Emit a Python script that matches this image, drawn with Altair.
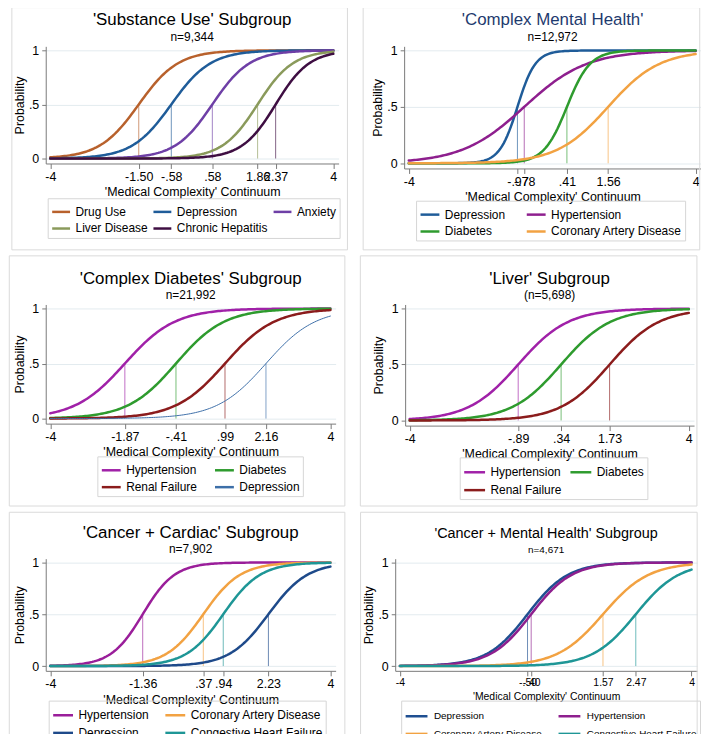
import numpy as np
import pandas as pd
import altair as alt

FONT = "Liberation Sans"

# ---------------- data ----------------
p1_title = "'Substance Use' Subgroup"
p1_n = "n=9,344"
p1_names = ["Drug Use", "Depression", "Anxiety", "Liver Disease", "Chronic Hepatitis"]
p1_b = [-1.50, -0.58, 0.58, 1.86, 2.37]
p1_a = [1.8, 1.8, 1.9, 2.0, 2.1]
p1_labels = ["-1.50", "-.58", ".58", "1.86", "2.37"]
p1_colors = ["#B8612C", "#1F5C99", "#6E3FA6", "#8A9A5B", "#3E0E42"]
p1_widths = [2.5, 2.5, 2.5, 2.5, 2.5]

p2_title = "'Complex Mental Health'"
p2_n = "n=12,972"
p2_names = ["Depression", "Hypertension", "Diabetes", "Coronary Artery Disease"]
p2_b = [-0.97, -0.78, 0.41, 1.56]
p2_a = [4.0, 1.15, 3.1, 1.4]
p2_labels = ["-.97", "-.78", ".41", "1.56"]
p2_colors = ["#1F5C99", "#8E1F8E", "#2E9B2E", "#F2A242"]
p2_widths = [2.5, 2.5, 2.5, 2.5]

p3_title = "'Complex Diabetes' Subgroup"
p3_n = "n=21,992"
p3_names = ["Hypertension", "Diabetes", "Renal Failure", "Depression"]
p3_b = [-1.87, -0.41, 0.99, 2.16]
p3_a = [1.4, 1.45, 1.42, 1.42]
p3_labels = ["-1.87", "-.41", ".99", "2.16"]
p3_colors = ["#A021A8", "#2E9B2E", "#8B1C1C", "#3D6FA8"]
p3_widths = [2.5, 2.5, 2.5, 1.0]

p4_title = "'Liver' Subgroup"
p4_n = "(n=5,698)"
p4_names = ["Hypertension", "Diabetes", "Renal Failure"]
p4_b = [-0.89, 0.34, 1.73]
p4_a = [1.4, 1.42, 1.42]
p4_labels = ["-.89", ".34", "1.73"]
p4_colors = ["#A021A8", "#2E9B2E", "#8B1C1C"]
p4_widths = [2.5, 2.5, 2.5]

p5_title = "'Cancer + Cardiac' Subgroup"
p5_n = "n=7,902"
p5_names = ["Hypertension", "Coronary Artery Disease", "Depression", "Congestive Heart Failure"]
p5_b = [-1.36, 0.37, 2.23, 0.94]
p5_a = [2.2, 1.9, 1.8, 1.9]
p5_labels = ["-1.36", ".37", "2.23", ".94"]
p5_colors = ["#9A1E9A", "#F2A242", "#1E4A8A", "#1E9696"]
p5_widths = [2.5, 2.5, 2.5, 2.5]

p6_title = "'Cancer + Mental Health' Subgroup"
p6_n = "n=4,671"
p6_names = ["Depression", "Hypertension", "Coronary Artery Disease", "Congestive Heart Failure"]
p6_b = [-0.50, -0.40, 1.57, 2.47]
p6_a = [1.8, 1.8, 1.6, 1.7]
p6_labels = ["-.50", "-.40", "1.57", "2.47"]
p6_colors = ["#1F4F91", "#8E1F8E", "#F2A242", "#1E9696"]
p6_widths = [2.5, 2.5, 2.5, 2.5]

x_ends = [-4, 4]
x_end_labels = ["-4", "4"]
y_ticks = [0, 0.5, 1]
y_tick_labels = ["0", ".5", "1"]
x_title = "'Medical Complexity' Continuum"
y_title = "Probability"

xs = np.linspace(-4, 4, 161)


def label_expr(values, labels):
    parts = []
    for v, l in zip(values, labels):
        parts.append(f"datum.value == {v} ? '{l}' : ")
    return "".join(parts) + "datum.label"


def panel(title, sub, names, b, a, labels, colors, widths, ncols, lay,
          title_color="black"):
    W, H = lay["W"], lay["H"]
    fs = lay.get("fs", {"t": 17, "s": 12, "ax": 12.5, "lg": 12})
    recs = []
    for n, bb, aa, ww in zip(names, b, a, widths):
        for x in xs:
            recs.append({"series": n, "x": float(x), "w": ww,
                         "p": float(1.0 / (1.0 + np.exp(-aa * (x - bb))))})
    curves = pd.DataFrame(recs)
    drops = pd.DataFrame({"series": names, "b": b, "color": colors,
                          "y0": [0.0] * len(b), "y1": [0.5] * len(b)})

    tick_vals = [x_ends[0]] + list(b) + [x_ends[1]]
    tick_labs = [x_end_labels[0]] + list(labels) + [x_end_labels[1]]

    xscale = alt.Scale(domain=[-4.13, 4.15], nice=False, zero=False)
    yscale = alt.Scale(domain=[-0.046, 1.037], nice=False, zero=False)

    xaxis = alt.Axis(values=tick_vals, labelExpr=label_expr(tick_vals, tick_labs),
                     title=x_title, titleFont=FONT,
                     titleFontSize=fs["ax"], titleFontWeight="normal", titleColor="black",
                     labelFont=FONT, labelFontSize=fs["ax"], labelColor="black",
                     domainColor="#7A7A7A", tickColor="#7A7A7A", tickSize=5,
                     labelPadding=2, titlePadding=3, labelOverlap=False,
                     labelFlush=False, grid=False)
    yaxis = alt.Axis(values=y_ticks, labelExpr=label_expr(y_ticks, y_tick_labels),
                     title=y_title, titleFont=FONT, titleFontSize=12.5,
                     titleFontWeight="normal", titleColor="black",
                     labelFont=FONT, labelFontSize=12.5, labelColor="black",
                     domainColor="#7A7A7A", tickColor="#7A7A7A", tickSize=4,
                     labelPadding=3, titlePadding=2, labelOverlap=False,
                     labelFlush=False, grid=True, gridColor="#E3EBEF", gridWidth=1)

    s = lay["sym"]
    legend = alt.Legend(title=None, orient="none", legendX=lay["lx"], legendY=lay["ly"],
                        columns=ncols, direction="horizontal",
                        symbolType="stroke", symbolSize=s * s, symbolStrokeWidth=2.5,
                        labelFont=FONT, labelFontSize=fs["lg"], labelColor="black",
                        strokeColor="#D6D6D6", padding=lay.get("pad", 3),
                        rowPadding=lay.get("rs", 17) - s - 2.5,
                        columnPadding=lay["cp"], labelLimit=400,
                        labelOffset=lay.get("lo", 4))

    border = alt.Chart(pd.DataFrame({"k": [0]})).mark_rect(
        fill="white", fillOpacity=0, stroke="#DADADA", strokeWidth=1
    ).encode(x=alt.value(lay["l"]), x2=alt.value(lay["r"]),
             y=alt.value(lay["t"]), y2=alt.value(lay["bt"]))

    heads = pd.DataFrame({"txt": [title]})
    subs = pd.DataFrame({"txt": [sub]})
    head = alt.Chart(heads).mark_text(
        font=FONT, fontSize=fs["t"], color=title_color, align="center",
        baseline="alphabetic"
    ).encode(x=alt.value(W / 2), y=alt.value(-21), text="txt:N")
    subhead = alt.Chart(subs).mark_text(
        font=FONT, fontSize=fs["s"], color="black", align="center",
        baseline="alphabetic"
    ).encode(x=alt.value(W / 2), y=alt.value(-5.5), text="txt:N")

    rules = alt.Chart(drops).mark_rule(strokeWidth=1, opacity=0.65).encode(
        x=alt.X("b:Q", scale=xscale, axis=xaxis),
        y=alt.Y("y0:Q", scale=yscale, axis=yaxis),
        y2="y1:Q",
        color=alt.Color("color:N", scale=None),
    )

    lines = alt.Chart(curves).mark_line(strokeCap="round").encode(
        x=alt.X("x:Q", scale=xscale, axis=xaxis),
        y=alt.Y("p:Q", scale=yscale, axis=yaxis),
        color=alt.Color("series:N", scale=alt.Scale(domain=names, range=colors),
                        legend=legend, sort=names),
        strokeWidth=alt.StrokeWidth("w:Q", scale=None),
        order=alt.Order("x:Q"),
    )

    return alt.layer(border, head, subhead, rules, lines).resolve_scale(
        color="independent"
    ).properties(width=W, height=H)


# layout of each panel relative to its plot area (pixels)
L1 = dict(W=295, H=118, l=-34.1, r=303.9, t=-39, bt=205, lx=2, ly=153, cp=0, sym=18)
L2 = dict(W=299, H=123, l=-41.3, r=297.7, t=-39, bt=205, lx=12, ly=155.5, cp=16, sym=19)
L3 = dict(W=292, H=120, l=-36.7, r=301.3, t=-49, bt=203, lx=52, ly=153, cp=12, sym=19)
L4 = dict(W=291, H=122, l=-45.1, r=293.9, t=-49, bt=203, lx=55, ly=154, cp=3, sym=21)
L5 = dict(W=292, H=113, l=-36.7, r=301.3, t=-46.7, bt=205, lx=3, ly=143, cp=11, sym=20,
          rs=15.5)
L6 = dict(W=304, H=113, l=-34.9, r=304.1, t=-46.7, bt=205, lx=6, ly=143, cp=10, sym=22,
          lo=5, rs=15.5, fs={"t": 14.5, "s": 10, "ax": 10.5, "lg": 10})

c1 = panel(p1_title, p1_n, p1_names, p1_b, p1_a, p1_labels, p1_colors, p1_widths, 3, L1)
c2 = panel(p2_title, p2_n, p2_names, p2_b, p2_a, p2_labels, p2_colors, p2_widths, 2, L2,
           title_color="#1E3A6E")
c3 = panel(p3_title, p3_n, p3_names, p3_b, p3_a, p3_labels, p3_colors, p3_widths, 2, L3)
c4 = panel(p4_title, p4_n, p4_names, p4_b, p4_a, p4_labels, p4_colors, p4_widths, 2, L4)
c5 = panel(p5_title, p5_n, p5_names, p5_b, p5_a, p5_labels, p5_colors, p5_widths, 2, L5)
c6 = panel(p6_title, p6_n, p6_names, p6_b, p6_a, p6_labels, p6_colors, p6_widths, 2, L6)


def row(l, r):
    return alt.hconcat(l, r, spacing=14).resolve_scale(
        color="independent", x="independent", y="independent")


chart = alt.vconcat(row(c1, c2), row(c3, c4), row(c5, c6), spacing=4).resolve_scale(
    color="independent", x="independent", y="independent"
).configure(
    padding={"left": 0, "top": -4, "right": 0, "bottom": -32},
    background="white", font=FONT
).configure_view(stroke=None)

chart.save("out.html", embed_options={"renderer": "svg", "actions": False})
